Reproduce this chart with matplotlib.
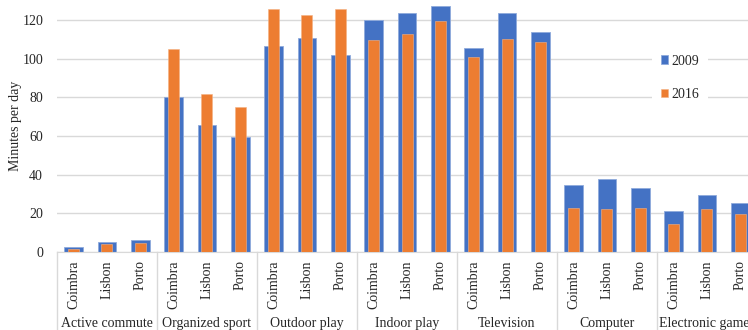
import matplotlib.pyplot as plt
import numpy as np
from matplotlib.transforms import blended_transform_factory

plt.rcParams["font.family"] = ["Liberation Serif", "DejaVu Serif"]
plt.rcParams["font.size"] = 10

activities = ["Active commute", "Organized sport", "Outdoor play", "Indoor play",
              "Television", "Computer", "Electronic games"]
cities = ["Coimbra", "Lisbon", "Porto"]

# minutes per day, ordered activity by activity, city by city
y2009 = [2.7, 5.2, 6.2,
         80.0, 65.7, 59.3,
         106.6, 110.9, 101.9,
         120.2, 123.6, 127.1,
         105.5, 123.8, 113.5,
         34.7, 37.9, 32.9,
         21.4, 29.5, 25.5]
y2016 = [1.5, 4.1, 4.5,
         104.9, 81.9, 75.2,
         125.9, 122.4, 125.5,
         109.7, 112.8, 119.3,
         100.9, 110.3, 108.5,
         22.6, 22.2, 22.9,
         14.5, 22.1, 19.5]

blue = "#4472C4"
orange = "#ED7D31"
grid = "#D9D9D9"
text = "#262626"

fig = plt.figure(figsize=(7.48, 3.30), dpi=100)
ax = fig.add_axes([57 / 748, 78 / 330, 700 / 748, 252 / 330])

x = np.arange(len(y2009))
ax.bar(x, y2009, width=0.56, color=blue, edgecolor="#8FAADC", linewidth=0.6,
       label="2009", zorder=2)
ax.bar(x, y2016, width=0.33, color=orange, edgecolor="#F4B183", linewidth=0.4,
       label="2016", zorder=3)

ax.set_xlim(-0.5, len(x) - 0.5)
ax.set_ylim(0, 130.3)
ax.set_yticks(range(0, 121, 20))
ax.yaxis.grid(True, color=grid, linewidth=1, zorder=0)
ax.set_axisbelow(True)

ax.set_xticks(x)
ax.set_xticklabels(cities * len(activities), rotation=90, color=text)
ax.tick_params(axis="x", length=0, pad=6)
ax.tick_params(axis="y", length=0, pad=10, colors=text)

for s in ["top", "right", "left"]:
    ax.spines[s].set_visible(False)
ax.spines["bottom"].set_color(grid)

ax.set_ylabel("Minutes per day", color=text)
ax.yaxis.set_label_coords(-41 / 700, 0.5)
ax.yaxis.label.set_va("center")

trans = blended_transform_factory(ax.transData, ax.transAxes)
for k in range(len(activities) + 1):
    xs = 3 * k - 0.5
    ax.plot([xs, xs], [0, -0.32], transform=trans, color=grid, linewidth=1,
            clip_on=False)
for k, name in enumerate(activities):
    ax.text(3 * k + 1, -0.282, name, transform=trans, ha="center", va="center",
            color=text)

leg = ax.legend(loc="center", bbox_to_anchor=(0.89, 0.692), frameon=True,
                framealpha=1, edgecolor="none", fancybox=False,
                handlelength=0.55, handleheight=0.55, handletextpad=0.25,
                labelspacing=1.45, borderpad=0.6)
for t in leg.get_texts():
    t.set_color(text)

fig.savefig("out.png", dpi=100)
